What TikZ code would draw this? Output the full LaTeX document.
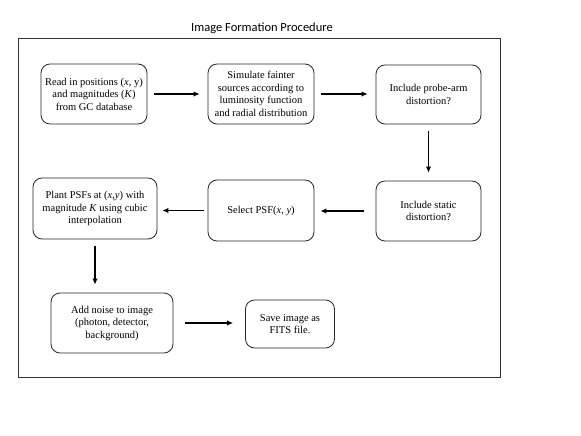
\documentclass[tikz,border=0pt]{standalone}
\usepackage{fontspec}
\setmainfont{Liberation Serif}
\newfontfamily\titlefont{Carlito}
\usetikzlibrary{positioning,arrows.meta}

\begin{document}
\begin{tikzpicture}[x=1pt,y=-1pt,
      process/.style={rectangle,rounded corners=9pt,draw=black!85,line width=0.8pt,align=center,
        inner sep=2pt,font=\fontsize{10.5}{12.5}\selectfont},
      arr/.style={line width=1.3pt,-{Latex[length=6pt,width=5.5pt]},shorten <=7pt,shorten >=8pt}
      ]
      \useasboundingbox (0,0) rectangle (581,436);
      \node (title) at (262,28) {\titlefont\fontsize{12.5}{14}\selectfont Image Formation Procedure};
      \draw[black!80,line width=0.8pt] (18,38) rectangle (500,377);
      \node (b1) [process,minimum width=106pt,minimum height=60pt] at (94,94)
      {Read in positions (\textit{x}, y)\\ and magnitudes (\textit{K})\\ from GC database};
      \node (b2) [process,minimum width=106pt,minimum height=60pt] at (261,94)
      {Simulate fainter\\ sources according to\\ luminosity function\\ and radial distribution};
      \draw[arr] (b1) -- (b2);
      \node (b3) [process,minimum width=105pt,minimum height=59pt] at (428.5,94.5)
      {Include probe-arm\\ distortion?};
      \draw[arr] (b2) -- (b2 -| b3.west);
      \node (b4) [process,minimum width=105pt,minimum height=60pt] at (428.5,211)
      {Include static\\ distortion?};
      \draw[arr] (b3.south) -- (b4.north);
      \node (b5) [process,minimum width=106pt,minimum height=61pt] at (261,210.5)
      {Select PSF(\textit{x}, \textit{y})};
      \draw[arr,shorten <=12pt,shorten >=6pt] (b4.west) -- (b4.west -| b5.east);
      \node (b6) [process,minimum width=124pt,minimum height=61pt] at (95,208.5)
      {Plant PSFs at (\textit{x},\textit{y}) with\\ magnitude \textit{K} using cubic\\ interpolation};
      \draw[arr,shorten <=4pt,shorten >=5pt] (b5.west) -- (b5.west -| b6.east);
      \node (b7) [process,minimum width=122pt,minimum height=60pt] at (112,323)
      {Add noise to image\\ (photon, detector,\\ background)};
      \draw[arr] (b6.south) -- (b6.south |- b7.north);
      \node (b8) [process,minimum width=89pt,minimum height=48pt] at (290,324)
      {Save image as\\ FITS file.};
      \draw[arr,shorten <=12pt,shorten >=12pt] (b7.east) -- (b7.east -| b8.west);
\end{tikzpicture}
\end{document}
